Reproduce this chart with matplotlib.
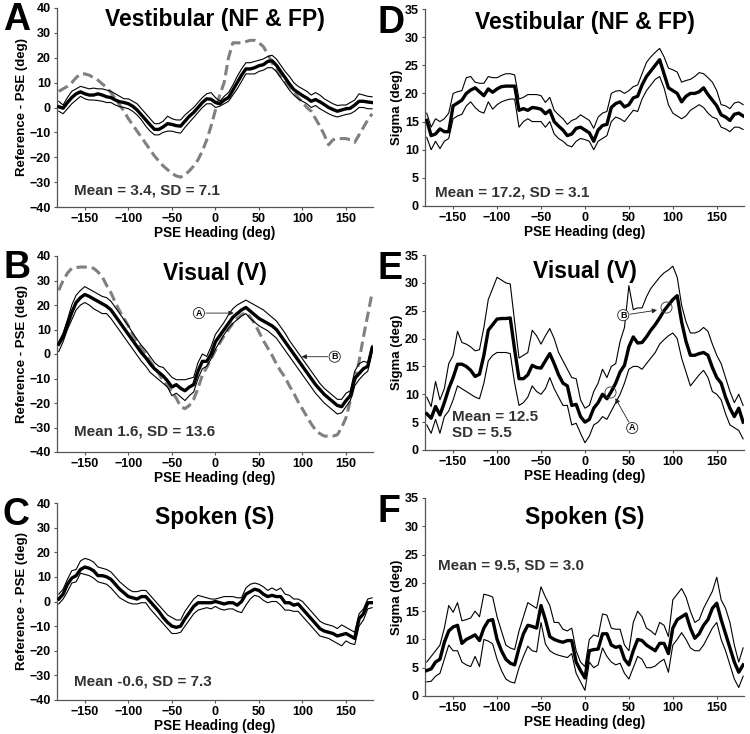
import numpy as np
import matplotlib
matplotlib.use('Agg')
import matplotlib.pyplot as plt

plt.rcParams['font.family'] = ['Liberation Sans', 'DejaVu Sans']

heading = np.arange(-180, 181, 5)

# ---------------- Panel A: Vestibular bias ----------------
a_mean = [0.3, -0.3, 2, 4, 5.5, 6.3, 5.5, 5, 5, 5.5,
          5, 4.3, 4, 3, 2.3, 2, 1.5, 0.5, -1, -3,
          -5, -7, -8.8, -8.8, -7.8, -6.5, -6.8, -7.3, -7.5, -5.5,
          -3.5, -2, 0, 2, 3.5, 3.3, 2, 1.5, 3, 4,
          7, 10, 13, 15.5, 15.5, 16, 16.8, 17.2, 18.5, 18.8,
          17, 14.5, 12, 9.5, 7.2, 6, 4.8, 3.8, 2.5, 3.2,
          2.3, 1.2, 0, -0.8, -1.5, -1, -0.5, -0.3, 1, 2.5,
          2.5, 2.2, 2]
a_upper = [2.5, 1, 4, 6.5, 7.5, 8.5, 8, 7.5, 7.8, 7.5,
           7.5, 7, 6.5, 5.5, 4.5, 3.5, 3.5, 2.5, 1.5, -0.5,
           -2.5, -4.5, -6.5, -6.5, -5.5, -3.5, -4.5, -5, -5, -3,
           -1.5, 0, 2, 4, 5.5, 6, 4, 2.5, 4.5, 6,
           9, 12.5, 15.5, 18, 18, 18.5, 19, 19.5, 20.5, 21,
           19.5, 17, 14.5, 12.5, 10, 8.5, 7.5, 6.5, 5, 6,
           5, 3.5, 2.5, 1.5, 0.8, 1, 1, 2, 3, 5.5,
           5, 4.5, 4.3]
a_lower = [-1.5, -2.5, -0.5, 1.5, 3, 4.5, 3.5, 3, 3, 2.8,
           2.5, 2, 2, 1, 0.3, 0, -0.5, -1.5, -3, -5,
           -7.5, -9.5, -11, -11, -10, -9.5, -9.5, -10, -10.3, -8,
           -6, -4, -2, 0, 1.5, 1.5, 0, 0.5, 1.5, 2.5,
           5, 7.5, 10.5, 13.5, 13.5, 13.5, 14.5, 15, 16, 16,
           14.5, 12, 9.5, 7, 5, 3.5, 2.5, 1.5, 0, 0.8,
           -0.5, -1.5, -2.5, -3.3, -3.8, -3.3, -2.8, -2.5, -1.5, 0,
           0, -0.5, -0.5]
a_model = [6.5, 7.5, 8.5, 10, 12, 13.5, 13.5, 13, 12, 11,
           9.5, 8, 6, 3.5, 1, -1.5, -4.5, -7, -9.5, -12,
           -14.5, -17, -19.5, -21.5, -23.5, -25, -26.5, -27.5, -28, -27,
           -25.5, -23.5, -21, -17.5, -13, -7.5, -1, 5, 10, 20,
           26, 26, 26, 26.5, 27, 27, 26, 24.5, 21.5, 18,
           15, 12.5, 10.5, 8.5, 6.5, 4, 2, 0, -1.5, -4.5,
           -7.5, -11, -15, -13, -12.5, -12.5, -12.5, -13, -14, -11,
           -8, -5, -2.5]

# ---------------- Panel B: Visual bias ----------------
b_mean = [4, 7, 12, 17, 21, 23, 24.3, 23.5, 22.5, 21.5,
          20.5, 19.5, 18, 15.5, 13, 10.5, 8, 5.5, 3, 0.5,
          -1.5, -4, -6, -7.5, -9, -11, -13.5, -12.5, -14, -15,
          -13.5, -12.5, -7, -3, -3, 0, 5, 7.5, 10, 12.5,
          15, 16.5, 18, 19, 17.5, 16, 14.5, 13.5, 12.5, 11.5,
          10, 7.5, 5, 2.5, 0, -2.5, -5, -7.5, -10, -12.5,
          -14.5, -16.5, -18, -19.5, -21, -21.5, -19, -17, -10, -8,
          -6, -5, 2.5]
b_upper = [5, 8.5, 14, 20, 24, 26, 27.5, 26.5, 25.5, 24.5,
           23.5, 23, 21.5, 19, 16.5, 14, 11.5, 8.5, 6, 3.5,
           1.5, -1, -3.5, -5, -5.5, -7.5, -9.5, -10.5, -10.5, -10.5,
           -10, -9.5, -3.5, 0, -1, 3, 8, 10.5, 13, 16,
           18.5, 20, 21, 22, 21, 20, 19, 18, 16.5, 15,
           13.5, 11, 8.5, 5.5, 3, 0.5, -2, -4.5, -7, -9.5,
           -12, -14, -15.5, -17, -18.5, -18.5, -16, -15, -7, -4,
           -3, -3.5, 3.5]
b_lower = [1, 5, 10, 14, 18, 20, 21, 20, 18.5, 17.5,
           16.5, 16.5, 14.5, 12, 9.5, 7, 4.5, 2, -0.5, -3,
           -5, -7.5, -9, -10.5, -12, -13.5, -17, -16, -17.5, -19,
           -17, -15.5, -10, -6, -5, -2, 2, 5, 8, 10.5,
           12.5, 14, 15.5, 16.5, 14.5, 13, 11.5, 10.5, 9.5, 8,
           6.5, 4, 1.5, -1, -3.5, -6, -8.5, -11, -13.5, -16,
           -18, -20, -21.5, -23, -24.5, -24, -21.5, -19, -13, -10.5,
           -8.5, -7, 1]
b_model = [26, 30, 33, 35, 35.3, 35.5, 35.5, 35.3, 35, 33.5,
           31.5, 28, 25, 21, 17.5, 14.5, 11.5, 8, 5, 2.5,
           0, -3, -5.5, -8, -11, -13, -15.5, -18, -21.5, -22.3,
           -21, -18.5, -14, -8.5, -5.5, -2, 1.5, 4.5, 7.5, 10,
           12.5, 14.5, 16, 17, 15, 12.5, 9, 5.5, 2.5, -0.5,
           -4, -7, -9.5, -13, -16, -19.5, -22.5, -25.5, -28.5, -31,
           -32.5, -33.5, -33.5, -33.5, -33, -30, -26, -19, -11, -3,
           7, 16, 25]

# ---------------- Panel C: Spoken bias ----------------
c_mean = [1, 3, 7, 9.5, 10.5, 13, 14, 13.5, 12.5, 10.5,
          10.5, 10, 9, 7, 5, 3.5, 2, 1.5, 1, 2,
          2, 0, -2, -4, -6.5, -8.5, -10, -10.5, -10, -7,
          -4.5, -2, -0.5, -0.5, -0.5, -0.5, 0, -0.5, -1, -0.5,
          -0.5, -1.5, 0, 3, 4, 5, 4.5, 3, 2, 2.5,
          2, 2, -0.5, -0.5, -1.5, -1, -3, -5, -7, -9,
          -11, -12, -12.5, -13, -14, -13.5, -13, -14, -15, -7,
          -5, -0.5, -0.5]
c_upper = [3, 5, 9, 12.5, 13, 16.5, 17.5, 17, 16, 14,
           13.5, 13, 12, 10, 8, 6.5, 5, 4, 4, 4.5,
           4.5, 2.5, 0.5, -1.5, -3.5, -5.5, -6.5, -7.5, -7.5, -4,
           -1.5, 1, 2.5, 2, 1.5, 1, 1, 1.5, 2, 2,
           2, 1.5, 1.5, 5.5, 7, 7.5, 7, 6, 4.5, 5.5,
           4.5, 5.5, 3, 2.5, 1, 1, 0, -2, -4, -6,
           -8, -9, -9.5, -10, -11, -9.5, -10.5, -11.5, -12.5, -5,
           -3, 1, 1.5]
c_lower = [-1, 1, 4, 7.5, 8, 11.5, 11, 10.5, 9.5, 8,
           7.5, 7, 5.5, 3.5, 1.5, 0.5, -0.5, -1, -1, -0.5,
           -0.5, -3, -5, -7, -9, -11, -13, -13, -12.5, -10,
           -7.5, -5, -3.5, -3, -2.5, -3, -2, -3, -3.5, -3,
           -3, -4, -4.5, -1.5, 1, 2.5, 2, 0.5, -0.5, 0,
           0, -1.5, -3.5, -3.5, -4, -4, -6, -8, -10, -12,
           -14, -14.5, -15, -16, -17, -18, -16, -17, -17.5, -10,
           -7.5, -3, -2.5]

# ---------------- Panel D: Vestibular sigma ----------------
d_mean = [15.2, 12.5, 12.8, 13.7, 13.2, 13.2, 17.8, 18.3, 18.8, 20,
          20.6, 21, 20.3, 19.6, 20.8, 20.2, 20.8, 21.2, 21.3, 21.3,
          21.3, 17, 17.3, 17, 17.5, 17.4, 17.2, 16.4, 17, 15,
          14.2, 13.5, 12.5, 12.8, 13.8, 14, 13.5, 13, 11.5, 13.5,
          14.3, 14.5, 17.5, 18.2, 18.5, 17.6, 18, 19.2, 19.5, 21.5,
          23, 24, 25, 26, 23.5, 21, 20.5, 20, 18.5, 19.5,
          20, 20, 20.3, 21, 19.8, 18.8, 17.8, 16.2, 15.8, 15.2,
          16.3, 16.5, 16]
d_upper = [16.5, 14, 15.5, 15, 15.5, 16.5, 20, 20.3, 20.5, 22.8,
           23, 22, 21.8, 21.8, 23, 22.8, 22.8, 23.2, 23.5, 23.5,
           23.3, 19, 19.3, 19.8, 19.8, 19.8, 19.6, 18.4, 19.3, 17,
           16.2, 15.5, 14.5, 15.2, 15.5, 16.2, 15.7, 15.2, 13.8, 15.8,
           16.5, 16.8, 20, 20.4, 20.5, 20, 20.5, 21.2, 21.5, 23.5,
           25.5, 26.5, 27.3, 28, 26.5, 24.5, 24.2, 23.8, 22, 22.3,
           22.5, 23, 23.7, 23.5, 22.8, 22, 20.5, 18, 17.8, 17.3,
           18.3, 18.5, 18]
d_lower = [12.2, 10, 11.5, 10.2, 11.5, 12, 15.5, 16, 16.3, 17.8,
           18.5, 17.5, 16.8, 16.5, 18.5, 17.2, 18, 18.5, 18.8, 19,
           19, 14, 15, 15.5, 15, 15, 15, 14, 15, 12.8,
           12, 11.5, 10.8, 10.5, 11.5, 12, 11.8, 11.5, 10, 11.5,
           12, 12.5, 15, 15.8, 15.5, 15, 16, 17, 16.8, 19,
           20.5, 21.5, 22.5, 23, 21, 18, 16.5, 16, 15.5, 16,
           17, 17.5, 18, 17.5, 16.5, 15.8, 15.5, 14, 13.7, 13.2,
           14, 14, 13.6]

# ---------------- Panel E: Visual sigma ----------------
e_mean = [6.5, 5.7, 7.8, 6.3, 8.5, 11, 13, 15.4, 15.4, 15,
          14.3, 13.2, 13.6, 17, 21.5, 22.5, 23.5, 23.6, 23.6, 23.7,
          18, 12.8, 12.8, 13.5, 15.2, 14.8, 14.7, 16, 17.3, 15.5,
          13.5, 12, 11.5, 8, 8.2, 6, 5, 5.5, 7.5, 8.5,
          10, 9.2, 10.5, 12, 14, 15.2, 18.5, 20.3, 19.2, 19.3,
          20.3, 21.5, 22.5, 23.7, 25, 26, 27, 27.7, 23, 19.5,
          17, 17, 17.3, 17.5, 17, 14.8, 13, 12, 9.5, 7.5,
          6, 7.5, 5]
e_upper = [9.5, 7.8, 12.3, 9, 11, 15.5, 17, 21.3, 19.3, 19,
           18.5, 17.8, 18, 22, 27, 29, 31, 30.5, 30, 29.8,
           23, 16.5, 17, 17.5, 21.5, 20.5, 19, 20.5, 21.8, 20,
           17.5, 16, 14.5, 13, 12.8, 9, 7.5, 8, 10.5, 12,
           14.5, 13, 15, 15.5, 19.5, 22, 29.5, 25.2, 25.5, 25.5,
           27.5, 29, 30, 31, 31.8, 32.3, 33, 31, 26, 23,
           21, 21, 21.3, 22, 21.3, 19, 17, 15.5, 13, 10.5,
           8.5, 10, 8]
e_lower = [4.5, 3, 5.5, 3, 6, 7, 9, 11.5, 11, 10.5,
           10, 9.5, 9.2, 12, 16, 17, 17.5, 17.5, 17.5, 17.3,
           12, 8, 8.5, 9.5, 11.5, 10.5, 10, 11, 13, 11,
           9.5, 8, 8, 4.5, 4.8, 3, 1.3, 2.5, 4.5, 5,
           6, 5.5, 7, 8.5, 10, 12, 14.5, 15, 15, 14.5,
           15.5, 16.5, 17.5, 19, 19.8, 20.5, 21, 20, 16.5, 14,
           11.5, 12.5, 13.5, 14.3, 13, 10.5, 10, 9, 6.5, 4.5,
           4, 3.5, 2]

# ---------------- Panel F: Spoken sigma ----------------
f_mean = [4.5, 4.8, 6, 6.5, 9.5, 11.5, 12.2, 12.5, 9.3, 10,
          10.4, 10.8, 9.8, 12, 13.3, 13.5, 10, 8, 6.5, 5.8,
          5.5, 8.5, 11, 12.5, 12.3, 12, 16, 13.5, 10.5, 10,
          9.7, 9.5, 9.8, 9.8, 6, 4.5, 3.2, 8, 8.2, 8.3,
          11, 11, 9, 8.6, 8.8, 6.5, 5.5, 8, 10, 9.8,
          9, 8.5, 8, 9.3, 9.3, 7.5, 12, 13.5, 14, 14.5,
          12, 10.2, 11, 12.5, 13.5, 15.5, 16.4, 13.5, 11, 8.5,
          6, 4.2, 5.5]
f_upper = [6, 7, 8, 9, 12, 16, 14.8, 16.5, 13.3, 13.5,
           13.8, 15, 14, 18, 17.8, 17.5, 14, 11.5, 9, 8.5,
           8.2, 11.5, 14, 16.5, 16, 15.5, 19.3, 17.5, 16, 13,
           13, 11.8, 11.5, 12, 8, 6, 5.2, 10, 10.8, 10.5,
           14.5, 14.3, 12, 11.8, 11.8, 9, 8, 13, 15, 14,
           12, 11.5, 10.8, 13, 12.5, 10.5, 17, 18, 19, 17.5,
           15, 13, 13.5, 15.5, 17, 18.5, 21, 17, 15.5, 13,
           9, 6, 8.5]
f_lower = [2.5, 2.6, 3.5, 4, 6.5, 9, 8, 8, 6, 5.5,
           5.2, 7, 5.2, 10, 9.7, 9.2, 6.5, 4.5, 3, 2.5,
           2.3, 5, 7, 8.8, 8, 7.8, 13, 9.2, 8, 7.5,
           7.2, 7, 6.8, 7.5, 4, 2.5, 1, 6, 5, 5.5,
           8.5, 7, 6, 5.5, 5.8, 4, 3, 5, 7, 6.5,
           5, 5, 5.3, 6, 6.5, 4.2, 9, 10, 11.2, 10,
           8.5, 8, 8, 9, 10.5, 12, 13, 10, 8, 5.5,
           3, 1.5, 3.5]

titles = ['Vestibular (NF & FP)', 'Visual (V)', 'Spoken (S)']
letters_left = ['A', 'B', 'C']
letters_right = ['D', 'E', 'F']
stats_left = ['Mean = 3.4, SD = 7.1', 'Mean 1.6, SD = 13.6', 'Mean -0.6, SD = 7.3']
stats_right = ['Mean = 17.2, SD = 3.1', 'Mean = 12.5\nSD = 5.5', 'Mean = 9.5, SD = 3.0']
xticks = [-150, -100, -50, 0, 50, 100, 150]
yticks_left = [-40, -30, -20, -10, 0, 10, 20, 30, 40]
yticks_right = [0, 5, 10, 15, 20, 25, 30, 35]

W, H = 750, 734
fig = plt.figure(figsize=(W / 100, H / 100), dpi=100)


def px_axes(x0, y0, x1, y1):
    return fig.add_axes([x0 / W, 1 - y1 / H, (x1 - x0) / W, (y1 - y0) / H])


SPINE = '#555555'


def style(ax, yticks, ylim, ylabel):
    ax.set_xlim(-182, 181)
    ax.set_ylim(*ylim)
    ax.set_xticks(xticks)
    ax.set_yticks(yticks)
    for s in ['top', 'right']:
        ax.spines[s].set_visible(False)
    for s in ['left', 'bottom']:
        ax.spines[s].set_color(SPINE)
        ax.spines[s].set_linewidth(0.9)
    ax.tick_params(direction='out', length=2.5, width=0.8, color=SPINE,
                   labelsize=9, pad=2)
    for lbl in ax.get_xticklabels() + ax.get_yticklabels():
        lbl.set_fontweight('bold')
    ax.set_xlabel('PSE Heading (deg)', fontsize=9.8, fontweight='bold', labelpad=0.5)
    ax.set_ylabel(ylabel, fontsize=9.5, fontweight='bold', labelpad=1)


def draw(ax, mean, upper, lower, model=None):
    if model is not None:
        ax.plot(heading, model, color='#808080', lw=2.2, ls=(0, (3.4, 1.6)), zorder=1)
    ax.plot(heading, upper, color='black', lw=0.8, zorder=2)
    ax.plot(heading, lower, color='black', lw=0.8, zorder=2)
    ax.plot(heading, mean, color='black', lw=2.4, zorder=3)


left_boxes = [(57, 8, 373, 207), (57, 256, 373, 452), (57, 503, 373, 700)]
right_boxes = [(425, 9, 744, 206), (425, 255, 744, 450), (425, 498, 744, 696)]
left_data = [(a_mean, a_upper, a_lower, a_model),
             (b_mean, b_upper, b_lower, b_model),
             (c_mean, c_upper, c_lower, None)]
right_data = [(d_mean, d_upper, d_lower), (e_mean, e_upper, e_lower),
              (f_mean, f_upper, f_lower)]
left_title_y = [0.94, 0.913, 0.924]
right_title_y = [0.934, 0.915, 0.90]
left_stat_pos = [(0.054, 0.082), (0.054, 0.104), (0.054, 0.096)]
right_stat_pos = [(0.03, 0.07), (0.085, 0.128), (0.04, 0.657)]

axes_left = []
axes_right = []
for i in range(3):
    ax = px_axes(*left_boxes[i])
    m, u, l, mod = left_data[i]
    draw(ax, m, u, l, mod)
    style(ax, yticks_left, (-40, 40), 'Reference - PSE (deg)')
    ax.text(0.5, left_title_y[i], titles[i], transform=ax.transAxes, ha='center',
            va='center', fontsize=16.5, fontweight='bold')
    ax.text(left_stat_pos[i][0], left_stat_pos[i][1], stats_left[i], transform=ax.transAxes,
            ha='left', va='center', fontsize=11, fontweight='bold', color='#333333')
    fig.text(3 / W, 1 - (left_boxes[i][1] + 12) / H, letters_left[i], fontsize=27,
             fontweight='bold', ha='left', va='center')
    axes_left.append(ax)

for i in range(3):
    ax = px_axes(*right_boxes[i])
    m, u, l = right_data[i]
    draw(ax, m, u, l)
    style(ax, yticks_right, (0, 35), 'Sigma (deg)')
    ax.text(0.5, right_title_y[i], titles[i], transform=ax.transAxes, ha='center',
            va='center', fontsize=16.5, fontweight='bold')
    ax.text(right_stat_pos[i][0], right_stat_pos[i][1], stats_right[i], transform=ax.transAxes,
            ha='left', va='center', fontsize=11,
            fontweight='bold', color='#333333', linespacing=1.15)
    fig.text(378 / W, 1 - (right_boxes[i][1] + 14) / H, letters_right[i], fontsize=27,
             fontweight='bold', ha='left', va='center')
    axes_right.append(ax)


def circ_label(ax, label, xy_text, xy_head):
    ax.annotate('', xy=xy_head, xytext=xy_text,
                arrowprops=dict(arrowstyle='-|>', lw=0.6, color='#222222',
                                shrinkA=5, shrinkB=0, mutation_scale=7), zorder=5)
    ax.text(xy_text[0], xy_text[1], label, ha='center', va='center', fontsize=6.5,
            fontweight='bold', zorder=6,
            bbox=dict(boxstyle='circle,pad=0.12', fc='white', ec='#222222', lw=0.6))


# Panel B annotations
axB = axes_left[1]
circ_label(axB, 'A', (-19, 16.7), (21, 16.7))
circ_label(axB, 'B', (137, -1.1), (99, -1.1))

# Panel E annotations
axE = axes_right[1]
circ_label(axE, 'B', (43.6, 24.2), (82, 25.1))
circ_label(axE, 'A', (53.8, 3.95), (34.6, 9.3))
axE.plot([92.4, 28.9], [25.7, 10.4], 'o', mfc='none', mec='#333333', ms=8, mew=0.6, zorder=6)

fig.savefig('out.png', dpi=100)
